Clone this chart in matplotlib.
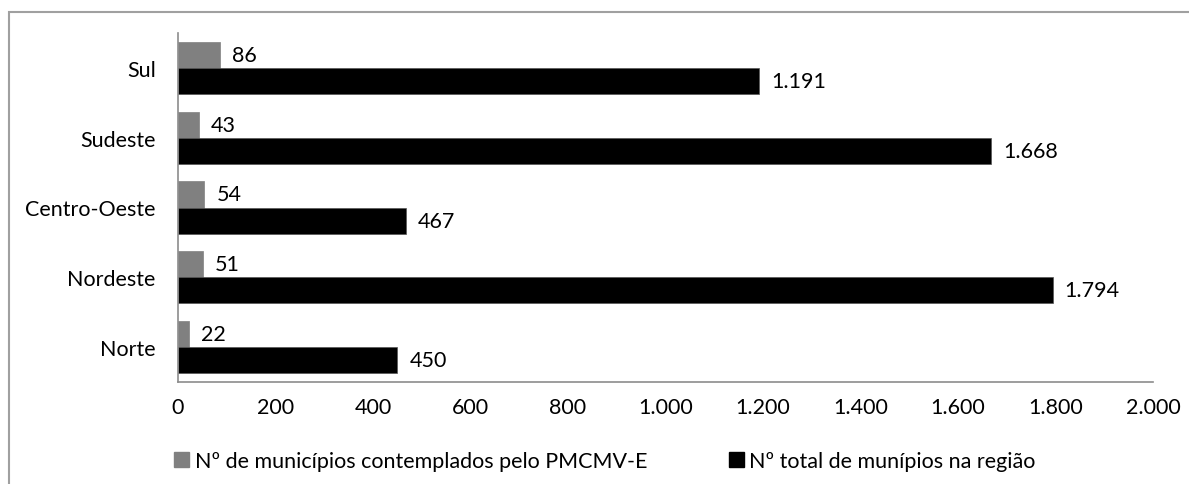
import matplotlib
matplotlib.use("Agg")
import matplotlib.pyplot as plt
import numpy as np
from matplotlib.patches import Rectangle, Patch

plt.rcParams['font.family'] = ['Lato', 'DejaVu Sans']

regioes = ["Sul", "Sudeste", "Centro-Oeste", "Nordeste", "Norte"]
contemplados = [86, 43, 54, 51, 22]
totais = [1191, 1668, 467, 1794, 450]
xticks = [0, 200, 400, 600, 800, 1000, 1200, 1400, 1600, 1800, 2000]
serie1 = "Nº de municípios contemplados pelo PMCMV-E"
serie2 = "Nº total de munípios na região"

FS = 15.5

def fmt(v):
    return f"{v:,}".replace(",", ".")

fig = plt.figure(figsize=(11.89, 4.85), dpi=100)
W, H = 1189, 485
ax = fig.add_axes([178 / W, 1 - 383 / H, (1153 - 178) / W, (383 - 34) / H])

n = len(regioes)
y = np.arange(n)
h = 0.375
ax.barh(y - h / 2, contemplados, height=h, color="#808080", edgecolor="#808080", linewidth=0.5)
ax.barh(y + h / 2, totais, height=h, color="#000000", edgecolor="#555555", linewidth=0.5)

for yi, v in zip(y, contemplados):
    ax.text(v + 25, yi - h / 2, fmt(v), va="center", ha="left", fontsize=FS, color="#000000")
for yi, v in zip(y, totais):
    ax.text(v + 25, yi + h / 2, fmt(v), va="center", ha="left", fontsize=FS, color="#000000")

ax.set_ylim(n - 0.5, -0.5)
ax.set_xlim(0, 2000)
ax.set_yticks(y)
ax.set_yticklabels(regioes, fontsize=FS)
ax.set_xticks(xticks)
ax.set_xticklabels([fmt(t) for t in xticks], fontsize=FS)
ax.tick_params(axis="y", length=0, pad=16)
ax.tick_params(axis="x", length=0, pad=11)
for s in ["top", "right"]:
    ax.spines[s].set_visible(False)
for s in ["left", "bottom"]:
    ax.spines[s].set_color("#8c8c8c")
    ax.spines[s].set_linewidth(1.2)

# outer chart frame
frame = Rectangle((9 / W, -0.1), 1.2, 1 - 13 / H + 0.1, transform=fig.transFigure,
                  fill=False, edgecolor="#a0a0a0", linewidth=1.5)
fig.add_artist(frame)

handles = [Patch(facecolor="#808080", edgecolor="#808080"),
           Patch(facecolor="#000000", edgecolor="#000000")]
fig.legend(handles, [serie1, serie2], loc="center", bbox_to_anchor=(605 / W, 1 - 462 / H),
           ncol=2, frameon=False, fontsize=FS, handlelength=0.7, handleheight=0.7,
           handletextpad=0.25, columnspacing=3.8)

fig.savefig("out.png", dpi=100)
